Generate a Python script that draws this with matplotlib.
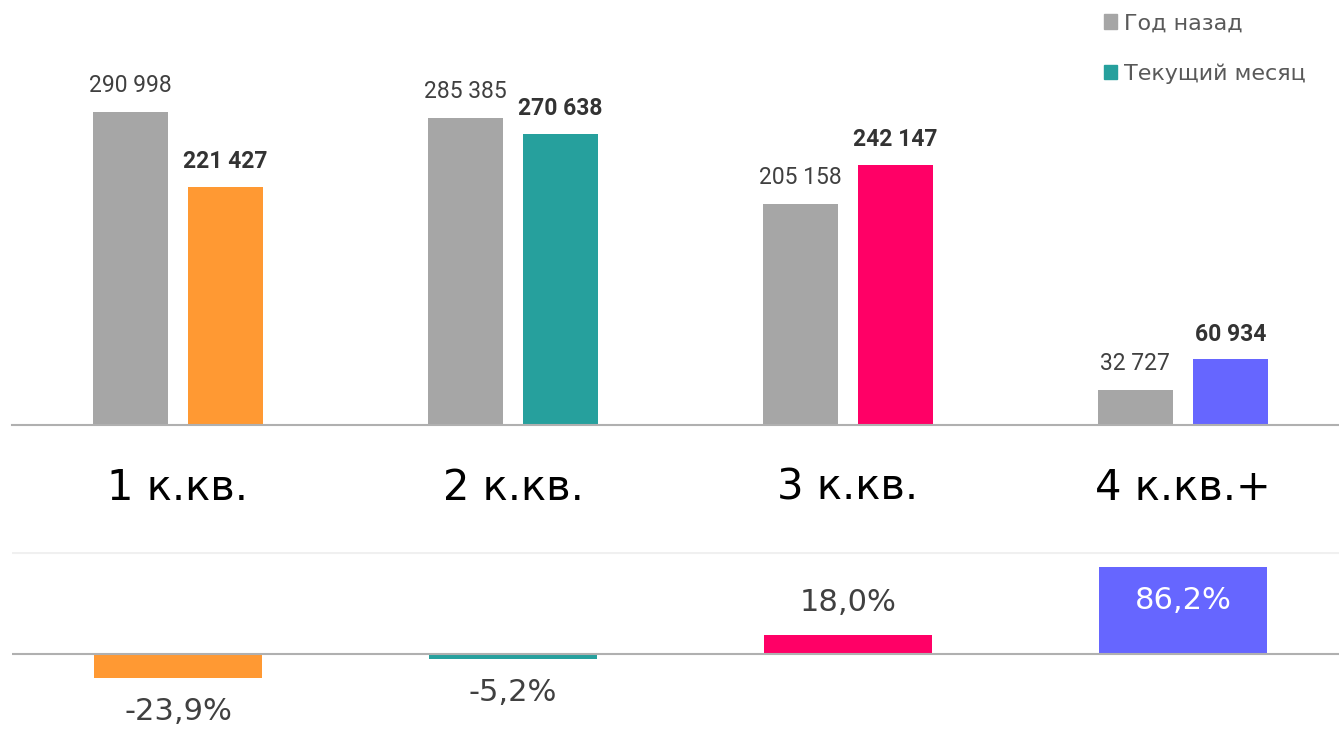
import numpy as np
import matplotlib.pyplot as plt
from matplotlib.patches import Patch

# data
categories = ["1 к.кв.", "2 к.кв.", "3 к.кв.", "4 к.кв.+"]
year_ago = [290998, 285385, 205158, 32727]
current = [221427, 270638, 242147, 60934]
change = [-23.9, -5.2, 18.0, 86.2]
labels_legend = ["Год назад", "Текущий месяц"]

grey = "#a6a6a6"
colors = ["#ff9933", "#26a09d", "#ff0066", "#6666ff"]
narrow = ["Roboto", "DejaVu Sans"]


def fmt(v):
    return f"{v:,}".replace(",", " ")


W, H = 1339, 747
fig = plt.figure(figsize=(W / 100, H / 100), dpi=100)

x = np.arange(len(categories))
left = 12 / W
xl = ((12 - 178) / 335, (W - 178) / 335)

# top panel
ax = fig.add_axes([left, 322 / H, 1 - left, 425 / H])
ax.set_xlim(*xl)
ax.set_ylim(0, 425 * 930)
off = 0.142
bw = 0.224
b1 = ax.bar(x - off, year_ago, bw, color=grey)
b2 = ax.bar(x + off, current, bw, color=colors)
for i in range(len(x)):
    ax.annotate(fmt(year_ago[i]), (x[i] - off, year_ago[i]), xytext=(0, 11),
                textcoords="offset points", ha="center", va="bottom",
                fontsize=16.5, color="#404040", family=narrow)
    ax.annotate(fmt(current[i]), (x[i] + off, current[i]), xytext=(0, 10),
                textcoords="offset points", ha="center", va="bottom",
                fontsize=16.5, color="#333333", fontweight="bold", family=narrow)
for s in ["top", "left", "right"]:
    ax.spines[s].set_visible(False)
ax.spines["bottom"].set_color("#b0b0b0")
ax.spines["bottom"].set_linewidth(1.5)
ax.set_yticks([])
ax.set_xticks(x)
ax.set_xticklabels(categories, fontsize=30, color="black")
ax.tick_params(axis="x", length=0, pad=30)

ax.legend(handles=[Patch(color=grey), Patch(color=colors[1])], labels=labels_legend,
          loc="upper right", bbox_to_anchor=(0.985, 1.0), frameon=False,
          handlelength=0.6, handleheight=0.6, handletextpad=0.3,
          labelspacing=1.35, fontsize=16, labelcolor="#595959",
          borderaxespad=0.2)

# bottom panel
ax2 = fig.add_axes([left, 0, 1 - left, 195 / H])
ax2.set_xlim(*xl)
ax2.set_ylim(-93, 101)
ax2.axhline(100, color="#f0f0f0", lw=1.5, zorder=0)
ax2.bar(x, change, 0.504, color=colors)
ax2.axhline(0, color="#b0b0b0", lw=1.5)
for i, v in enumerate(change):
    txt = f"{v:.1f}%".replace(".", ",")
    if v < 0:
        ax2.annotate(txt, (x[i], v), xytext=(0, -14), textcoords="offset points",
                     ha="center", va="top", fontsize=22, color="#404040")
    elif v < 50:
        ax2.annotate(txt, (x[i], v), xytext=(0, 13), textcoords="offset points",
                     ha="center", va="bottom", fontsize=22, color="#404040")
    else:
        ax2.annotate(txt, (x[i], v), xytext=(0, -24), textcoords="offset points",
                     ha="center", va="center", fontsize=22, color="white")
ax2.axis("off")

fig.savefig("out.png", dpi=100)
